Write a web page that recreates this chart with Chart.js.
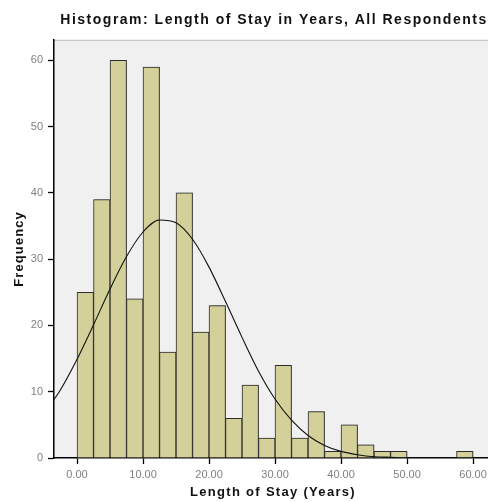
<!DOCTYPE html>
<html>
<head>
<meta charset="utf-8">
<script src="https://cdn.jsdelivr.net/npm/chart.js@4.4.1/dist/chart.umd.min.js"></script>
<style>
  html,body{margin:0;padding:0;background:#fff;}
  #wrap{width:488px;height:502px;overflow:hidden;position:relative;}
  canvas{position:absolute;left:0;top:0;}
</style>
</head>
<body>
<div id="wrap"><canvas id="c" width="548" height="502"></canvas></div>
<script>
/* histogram bins (2.5-year width) */
const binStarts = [0,2.5,5,7.5,10,12.5,15,17.5,20,22.5,25,27.5,30,32.5,35,37.5,40,42.5,45,47.5,50,52.5,55,57.5];
const counts    = [25,39,60,24,59,16,40,19,23,6,11,3,14,3,7,1,5,2,1,1,0,0,0,1];

/* normal curve */
const curveX = [-3.5,-2.5,0,2.5,5,7.5,10,12.5,15,17.5,20,22.5,25,27.5,30,32.5,35,37.5,40,42.5,45,47.5,50,55,60,65,71];
const curveY = [8.8,10.3,14.9,20.1,25.5,30.4,34.1,35.9,35.5,33.0,28.8,23.6,18.2,13.1,8.9,5.7,3.4,1.9,1.0,0.5,0.2,0.1,0,0,0,0,0];

const xTicks = [0,10,20,30,40,50,60];
const yTicks = [0,10,20,30,40,50,60];

const BIN = 2.5;
const FONT = "Arial, 'Liberation Sans', sans-serif";

const plotBg = {
  id:'plotBg',
  beforeDraw(chart){
    const {ctx, chartArea:a} = chart;
    ctx.save();
    ctx.fillStyle='#f0f0f0';
    ctx.fillRect(a.left, a.top, a.right-a.left, a.bottom-a.top);
    ctx.strokeStyle='#bcbcbc'; ctx.lineWidth=1;
    ctx.beginPath(); ctx.moveTo(a.left, a.top+0.5); ctx.lineTo(a.right, a.top+0.5); ctx.stroke();
    ctx.restore();
  },
  /* soft grey halo round the bars, like the SPSS output */
  beforeDatasetDraw(chart, args){
    if(args.meta.type!=='bar') return;
    const ctx=chart.ctx;
    ctx.save();
    ctx.shadowColor='rgba(0,0,0,0.35)'; ctx.shadowBlur=1.5; ctx.shadowOffsetX=1; ctx.shadowOffsetY=0;
  },
  afterDatasetDraw(chart, args){
    if(args.meta.type!=='bar') return;
    chart.ctx.restore();
  }
};

/* SPSS titles are a bit tracked out — add letter spacing to the bold titles only */
function spaced(obj, key, sp, dx){
  if(!obj || obj['_sp_'+key]) return;
  const orig = obj[key].bind(obj);
  obj[key] = function(...args){
    const ctx = this.ctx || this.chart.ctx;
    ctx.save();
    ctx.letterSpacing = sp;
    if(dx) ctx.translate(dx,0);
    orig(...args);
    ctx.restore();
  };
  obj['_sp_'+key] = true;
}
const tracking = {
  id:'tracking',
  afterLayout(chart){
    spaced(chart.titleBlock, 'draw', '1.5px', 0);
    spaced(chart.scales.x, 'drawTitle', '1.3px', -28);   // centred on the whole figure, not the plot
    spaced(chart.scales.y, 'drawTitle', '1.1px', 0);
  }
};

new Chart(document.getElementById('c'), {
  type:'bar',
  data:{
    datasets:[
      {
        type:'line',
        data:curveX.map((x,i)=>({x, y:curveY[i]})),
        borderColor:'#111', borderWidth:1.1, pointRadius:0,
        cubicInterpolationMode:'monotone', fill:false, order:0
      },
      {
        type:'bar',
        data:binStarts.map((s,i)=>({x:s+BIN/2, y:counts[i]})),
        backgroundColor:'#d4d09a', borderColor:'#2e2e2e', borderWidth:1,
        barPercentage:1, categoryPercentage:1, grouped:false, order:1
      }
    ]
  },
  options:{
    responsive:false, animation:false, devicePixelRatio:1,
    layout:{padding:{left:0,right:0,top:0,bottom:0}},
    plugins:{
      legend:{display:false}, tooltip:{enabled:false},
      title:{display:true, text:'Histogram: Length of Stay in Years, All Respondents',
        color:'#111', font:{family:FONT, size:14, weight:'bold'}, padding:{top:12,bottom:11}}
    },
    scales:{
      x:{
        type:'linear', min:-3.49, max:71.36, offset:false,
        afterBuildTicks:s=>{ s.ticks = xTicks.map(v=>({value:v})); },
        afterFit:s=>{ s.height = 44; },
        ticks:{color:'#808080', font:{family:FONT, size:11}, padding:4, maxRotation:0,
          callback:v=>Number(v).toFixed(2)},
        grid:{offset:false, drawOnChartArea:false, drawTicks:true, tickLength:6, tickColor:'#000', tickWidth:1.3},
        border:{display:true, color:'#000', width:1.5},
        title:{display:true, text:'Length of Stay (Years)', color:'#111',
          font:{family:FONT, size:13, weight:'bold'}, padding:{top:0,bottom:2}}
      },
      y:{
        min:0, max:63.1,
        afterBuildTicks:s=>{ s.ticks = yTicks.map(v=>({value:v})); },
        afterFit:s=>{ s.width = 54; },
        ticks:{color:'#808080', font:{family:FONT, size:11}, padding:5},
        grid:{offset:false, drawOnChartArea:false, drawTicks:true, tickLength:6, tickColor:'#000', tickWidth:1.3},
        border:{display:true, color:'#000', width:1.5},
        title:{display:true, text:'Frequency', color:'#111',
          font:{family:FONT, size:13, weight:'bold'}, padding:{top:12,bottom:0}}
      }
    }
  },
  plugins:[plotBg, tracking]
});
</script>
</body>
</html>
